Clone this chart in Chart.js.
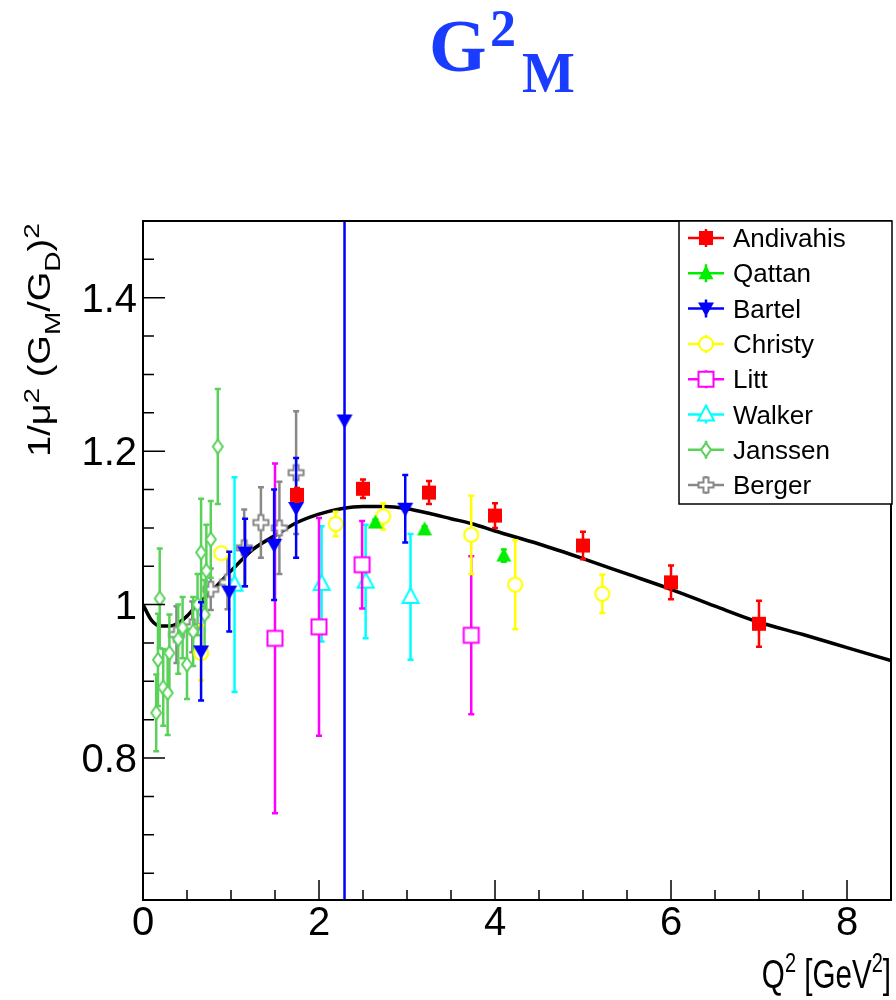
<!DOCTYPE html>
<html>
<head>
<meta charset="utf-8">
<script src="https://cdn.jsdelivr.net/npm/chart.js@4"></script>
<style>
  html, body { margin: 0; padding: 0; background: #fff; }
  #wrap { width: 896px; height: 1000px; }
</style>
</head>
<body>
<div id="wrap"><canvas id="c" width="896" height="1000"></canvas></div>
<script>
// ---- data ----
const andivahisQ2 = [1.75, 2.5, 3.25, 4.0, 5.0, 6.0, 7.0];
const andivahisVal = [1.143, 1.151, 1.146, 1.116, 1.077, 1.029, 0.975];
const andivahisErr = [0.009, 0.012, 0.015, 0.016, 0.018, 0.022, 0.03];

const qattanQ2 = [2.64, 3.2, 4.1];
const qattanVal = [1.107, 1.098, 1.064];
const qattanErr = [0.004, 0.004, 0.008];

const bartelQ2 = [0.66, 0.98, 1.16, 1.49, 1.74, 2.29, 2.98];
const bartelVal = [0.939, 1.017, 1.068, 1.078, 1.126, 1.24, 1.125];
const bartelErr = [0.064, 0.052, 0.044, 0.072, 0.065, 0.9, 0.044];

const christyQ2 = [0.66, 0.89, 2.19, 2.73, 3.73, 4.23, 5.22];
const christyVal = [0.937, 1.067, 1.105, 1.115, 1.091, 1.026, 1.014];
const christyErr = [0.036, 0.0, 0.016, 0.017, 0.051, 0.058, 0.025];

const littQ2 = [1.5, 2.0, 2.49, 3.73];
const littVal = [0.956, 0.971, 1.052, 0.96];
const littErr = [0.228, 0.142, 0.057, 0.103];

const walkerQ2 = [1.04, 2.03, 2.53, 3.04];
const walkerVal = [1.026, 1.027, 1.03, 1.01];
const walkerErr = [0.14, 0.075, 0.074, 0.082];

const janssenQ2 = [0.15, 0.17, 0.19, 0.23, 0.28, 0.3, 0.4, 0.45, 0.5, 0.57, 0.62, 0.66, 0.7, 0.72, 0.77, 0.85];
const janssenVal = [0.859, 0.928, 1.008, 0.892, 0.885, 0.937, 0.955, 0.97, 0.922, 0.965, 1.0, 1.068, 0.987, 1.044, 1.085, 1.206];
const janssenErr = [0.05, 0.06, 0.065, 0.05, 0.055, 0.05, 0.045, 0.04, 0.045, 0.045, 0.04, 0.07, 0.045, 0.06, 0.05, 0.075];

const bergerQ2 = [0.38, 0.56, 0.77, 0.96, 1.15, 1.34, 1.55, 1.74];
const bergerVal = [0.961, 0.971, 1.02, 1.029, 1.074, 1.107, 1.1, 1.172];
const bergerErr = [0.037, 0.033, 0.027, 0.035, 0.05, 0.046, 0.06, 0.08];

// fit curve, read point by point
const fitQ2 = [0, 0.1, 0.2, 0.3, 0.4, 0.5, 0.6, 0.75, 1.0, 1.25, 1.5, 1.75, 2.0, 2.25, 2.5, 2.75, 3.0, 3.25, 3.5, 3.75, 4.0, 4.5, 5.0, 5.5, 6.0, 6.5, 7.0, 7.5, 8.0, 8.5];
const fitVal = [1.0, 0.979, 0.972, 0.972, 0.976, 0.985, 0.998, 1.014, 1.044, 1.072, 1.09, 1.107, 1.118, 1.125, 1.128, 1.128, 1.125, 1.119, 1.112, 1.105, 1.096, 1.079, 1.06, 1.04, 1.02, 0.998, 0.977, 0.961, 0.944, 0.927];

const xTicks = [0, 2, 4, 6, 8];
const yTicks = [0.8, 1.0, 1.2, 1.4];
const yTickLabels = ["0.8", "1", "1.2", "1.4"];

// ---- markers ----
function drawMarker(ctx, kind, x, y, color) {
  ctx.save();
  ctx.lineWidth = 2;
  ctx.strokeStyle = color;
  ctx.fillStyle = color;
  ctx.beginPath();
  if (kind === "square") {
    ctx.rect(x - 7, y - 7, 14, 14);
    ctx.fill();
  } else if (kind === "triUp") {
    ctx.moveTo(x, y - 8); ctx.lineTo(x + 7.5, y + 6); ctx.lineTo(x - 7.5, y + 6); ctx.closePath();
    ctx.fill();
  } else if (kind === "triDown") {
    ctx.moveTo(x, y + 8); ctx.lineTo(x + 8, y - 6); ctx.lineTo(x - 8, y - 6); ctx.closePath();
    ctx.fill();
  } else if (kind === "circle") {
    ctx.arc(x, y, 7, 0, Math.PI * 2);
    ctx.fillStyle = "#fff"; ctx.fill(); ctx.stroke();
  } else if (kind === "openSquare") {
    ctx.rect(x - 7.5, y - 7.5, 15, 15);
    ctx.fillStyle = "#fff"; ctx.fill(); ctx.stroke();
  } else if (kind === "openTriUp") {
    ctx.moveTo(x, y - 9); ctx.lineTo(x + 8, y + 6); ctx.lineTo(x - 8, y + 6); ctx.closePath();
    ctx.fillStyle = "#fff"; ctx.fill(); ctx.stroke();
  } else if (kind === "diamond") {
    ctx.moveTo(x, y - 7); ctx.lineTo(x + 5, y); ctx.lineTo(x, y + 7); ctx.lineTo(x - 5, y); ctx.closePath();
    ctx.fillStyle = "#fff"; ctx.fill(); ctx.stroke();
  } else if (kind === "openCross") {
    const a = 2.5, b = 7.5;
    ctx.moveTo(x - a, y - b); ctx.lineTo(x + a, y - b); ctx.lineTo(x + a, y - a); ctx.lineTo(x + b, y - a);
    ctx.lineTo(x + b, y + a); ctx.lineTo(x + a, y + a); ctx.lineTo(x + a, y + b); ctx.lineTo(x - a, y + b);
    ctx.lineTo(x - a, y + a); ctx.lineTo(x - b, y + a); ctx.lineTo(x - b, y - a); ctx.lineTo(x - a, y - a);
    ctx.closePath();
    ctx.fillStyle = "#fff"; ctx.fill(); ctx.stroke();
  }
  ctx.restore();
}

function markerImage(kind, color) {
  const cv = document.createElement("canvas");
  cv.width = 24; cv.height = 24;
  drawMarker(cv.getContext("2d"), kind, 12, 12, color);
  return cv;
}

const series = [
  { label: "Andivahis", q: andivahisQ2, v: andivahisVal, e: andivahisErr, color: "#ff0000", kind: "square" },
  { label: "Qattan", q: qattanQ2, v: qattanVal, e: qattanErr, color: "#00ee00", kind: "triUp" },
  { label: "Bartel", q: bartelQ2, v: bartelVal, e: bartelErr, color: "#0000ff", kind: "triDown" },
  { label: "Christy", q: christyQ2, v: christyVal, e: christyErr, color: "#ffff00", kind: "circle" },
  { label: "Litt", q: littQ2, v: littVal, e: littErr, color: "#ff00ff", kind: "openSquare" },
  { label: "Walker", q: walkerQ2, v: walkerVal, e: walkerErr, color: "#00ffff", kind: "openTriUp" },
  { label: "Janssen", q: janssenQ2, v: janssenVal, e: janssenErr, color: "#5ad25a", kind: "diamond" },
  { label: "Berger", q: bergerQ2, v: bergerVal, e: bergerErr, color: "#888888", kind: "openCross" },
];

const datasets = series.map((s) => ({
  label: s.label,
  data: s.q.map((q, i) => ({ x: q, y: s.v[i], err: s.e[i] })),
  pointStyle: markerImage(s.kind, s.color),
  showLine: false,
  errColor: s.color,
}));

datasets.push({
  label: "fit",
  data: fitQ2.map((q, i) => ({ x: q, y: fitVal[i] })),
  showLine: true,
  borderColor: "#000",
  borderWidth: 3.5,
  pointRadius: 0,
  cubicInterpolationMode: "monotone",
});

// error bars drawn right before each dataset's markers
const errorBars = {
  id: "errorBars",
  beforeDatasetDraw(chart, args) {
    const ds = chart.data.datasets[args.index];
    if (!ds.errColor) return;
    const { ctx, chartArea: a } = chart;
    const xs = chart.scales.x, ys = chart.scales.y;
    ctx.save();
    ctx.beginPath();
    ctx.rect(a.left, a.top, a.right - a.left, a.bottom - a.top);
    ctx.clip();
    ctx.strokeStyle = ds.errColor;
    ctx.lineWidth = 2.5;
    ds.data.forEach((p) => {
      if (!p.err) return;
      const px = xs.getPixelForValue(p.x);
      const y1 = ys.getPixelForValue(p.y + p.err);
      const y2 = ys.getPixelForValue(p.y - p.err);
      ctx.beginPath();
      ctx.moveTo(px, y1); ctx.lineTo(px, y2);
      ctx.moveTo(px - 3, y1); ctx.lineTo(px + 3, y1);
      ctx.moveTo(px - 3, y2); ctx.lineTo(px + 3, y2);
      ctx.stroke();
    });
    ctx.restore();
  },
};

// writes a run of [text, size, shift] pieces starting at (0,0) of the current transform
function drawRich(ctx, parts) {
  let cx = 0;
  parts.forEach(([t, s, dy]) => {
    ctx.font = s + "px 'Liberation Sans', Arial";
    ctx.fillText(t, cx, dy);
    cx += ctx.measureText(t).width;
  });
  return cx;
}
function richWidth(ctx, parts) {
  let w = 0;
  parts.forEach(([t, s]) => { ctx.font = s + "px 'Liberation Sans', Arial"; w += ctx.measureText(t).width; });
  return w;
}

// frame, inward ticks, labels, titles and legend in the ROOT look
const decor = {
  id: "decor",
  afterDraw(chart) {
    const { ctx, chartArea: a } = chart;
    const xs = chart.scales.x, ys = chart.scales.y;
    ctx.save();
    ctx.strokeStyle = "#000";
    ctx.lineWidth = 2;
    ctx.strokeRect(a.left, a.top, a.right - a.left, a.bottom - a.top);

    ctx.lineWidth = 1.5;
    ctx.beginPath();
    for (let v = 0; v <= 8.5 + 1e-9; v += 0.5) {
      const px = xs.getPixelForValue(v);
      const len = Math.abs(v % 2) < 1e-6 ? 20 : 10;
      ctx.moveTo(px, a.bottom); ctx.lineTo(px, a.bottom - len);
    }
    for (let v = 0.65; v <= 1.5 + 1e-9; v += 0.05) {
      const py = ys.getPixelForValue(v);
      const major = Math.abs(Math.round(v * 10) / 10 - v) < 1e-6 && Math.round(v * 10) % 2 === 0;
      const len = major ? 22 : 11;
      ctx.moveTo(a.left, py); ctx.lineTo(a.left + len, py);
    }
    ctx.stroke();

    ctx.fillStyle = "#000";
    ctx.font = "40px 'Liberation Sans', Arial, sans-serif";
    ctx.textAlign = "center";
    ctx.textBaseline = "alphabetic";
    xTicks.forEach((v) => ctx.fillText(String(v), xs.getPixelForValue(v), a.bottom + 35));
    ctx.textAlign = "right";
    yTicks.forEach((v, i) => ctx.fillText(yTickLabels[i], a.left - 6, ys.getPixelForValue(v) + 14));
    ctx.textAlign = "left";

    // x title, narrow like the original
    const xParts = [["Q", 40, 0], ["2", 27, -16], [" [GeV", 40, 0], ["2", 27, -16], ["]", 40, 0]];
    const sx = 0.74;
    const w = richWidth(ctx, xParts) * sx;
    ctx.save();
    ctx.translate(a.right - w, 988);
    ctx.scale(sx, 1);
    drawRich(ctx, xParts);
    ctx.restore();

    // y title, rotated and narrow
    ctx.save();
    ctx.translate(50, 457);
    ctx.rotate(-Math.PI / 2);
    ctx.scale(1, 0.82);
    drawRich(ctx, [["1/\u03bc", 38, 0], ["2", 28, -14], [" (G", 38, 0], ["M", 28, 12], ["/G", 38, 0], ["D", 28, 12], [")", 38, 0], ["2", 28, -14]]);
    ctx.restore();

    // title
    ctx.fillStyle = "#1a3cff";
    ctx.font = "bold 74px 'Liberation Serif', 'Times New Roman', serif";
    ctx.fillText("G", 429, 71);
    ctx.font = "bold 52px 'Liberation Serif', 'Times New Roman', serif";
    ctx.fillText("2", 490, 46);
    ctx.font = "bold 56px 'Liberation Serif', 'Times New Roman', serif";
    ctx.fillText("M", 522, 92);

    // legend
    const lx = 679, ly = 221, lw = 213, lh = 283;
    ctx.fillStyle = "#fff";
    ctx.fillRect(lx, ly, lw, lh);
    ctx.strokeStyle = "#000";
    ctx.lineWidth = 1.5;
    ctx.strokeRect(lx, ly, lw, lh);
    ctx.font = "26px 'Liberation Sans', Arial";
    series.forEach((s, i) => {
      const ry = 238 + i * 35.3;
      ctx.strokeStyle = s.color;
      ctx.lineWidth = 2.5;
      ctx.beginPath();
      ctx.moveTo(688, ry); ctx.lineTo(724, ry);
      ctx.moveTo(706, ry - 9); ctx.lineTo(706, ry + 9);
      ctx.stroke();
      drawMarker(ctx, s.kind, 706, ry, s.color);
      ctx.fillStyle = "#000";
      ctx.font = "26px 'Liberation Sans', Arial";
      ctx.fillText(s.label, 733, ry + 9);
    });
    ctx.restore();
  },
};

new Chart(document.getElementById("c"), {
  type: "scatter",
  data: { datasets },
  options: {
    responsive: false,
    animation: false,
    layout: { padding: { left: 143, right: 3, top: 221, bottom: 100 } },
    plugins: { legend: { display: false }, tooltip: { enabled: false } },
    scales: {
      x: { type: "linear", min: 0, max: 8.5, display: false },
      y: { type: "linear", min: 0.615, max: 1.5, display: false },
    },
  },
  plugins: [errorBars, decor],
});
</script>
</body>
</html>
